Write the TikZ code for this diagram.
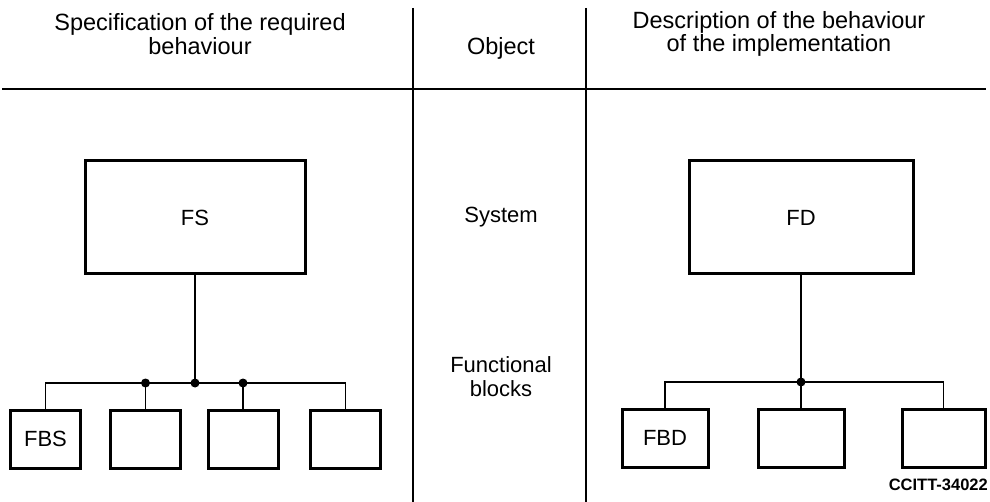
\documentclass[tikz,border=0pt]{standalone}
\usepackage{fontspec}
\setmainfont{Liberation Sans}
\begin{document}
\begin{tikzpicture}[x=1pt,y=-1pt,
  rule/.style={line width=1.4pt},
  conn/.style={line width=1.5pt},
  bigbox/.style={draw, line width=3pt, minimum height=113pt, inner sep=0pt, font=\fontsize{22}{22}\selectfont},
  smallbox/.style={draw, line width=3pt, minimum height=58pt, inner sep=0pt, font=\fontsize{22}{22}\selectfont},
  junction/.style={circle, fill, inner sep=0pt, minimum size=9pt},
  hdr/.style={align=center, inner sep=0pt, font=\fontsize{23.5}{23.5}\selectfont},
  lbl/.style={align=center, inner sep=0pt, font=\fontsize{22}{24}\selectfont}]
\useasboundingbox (0,0) rectangle (990,502);

% table rules
\coordinate (hl) at (2,89);
\coordinate (hr) at (986,89);
\coordinate (v1t) at (413,8);
\coordinate (v1b) at (413,502);
\coordinate (v2t) at (586,8);
\coordinate (v2b) at (586,502);
\draw[rule] (hl) -- (hr);
\draw[rule] (v1t) -- (v1b);
\draw[rule] (v2t) -- (v2b);

% headers
\node[hdr] (h1) at (200,34) {Specification of the required\\behaviour};
\node[hdr] (h2) at (501,48) {Object};
\node[hdr] (h3) at (779,34) {Description of the behaviour\\of the implementation};

% middle column
\node[lbl] (sys) at (501,217) {System};
\node[lbl] (fb) at (501,377) {Functional\\blocks};

% left side
\node[bigbox, minimum width=220pt] (fs) at (195,217.5) {FS};
\node[smallbox, minimum width=70pt] (b1) at (45.5,439) {FBS};
\node[smallbox, minimum width=70pt] (b2) at (145.5,439) {};
\node[smallbox, minimum width=70pt] (b3) at (243,439) {};
\node[smallbox, minimum width=70pt] (b4) at (345.5,439) {};
\coordinate (jL) at (195,383);
\draw[conn] (fs.south) -- (jL);
\draw[conn] (b1.north) |- (jL) -| (b4.north);
\draw[conn] (b2.north) -- (b2.north |- jL) node[junction] (jL2) {};
\draw[conn] (b3.north) -- (b3.north |- jL) node[junction] (jL3) {};
\node[junction] (jL1) at (jL) {};

% right side
\node[bigbox, minimum width=224pt] (fd) at (801,217.5) {FD};
\node[smallbox, minimum width=86pt] (c1) at (665,438) {FBD};
\node[smallbox, minimum width=86pt] (c2) at (801,438) {};
\node[smallbox, minimum width=83pt] (c3) at (943.5,438) {};
\coordinate (jR) at (801,382);
\draw[conn] (fd.south) -- (c2.north);
\draw[conn] (c1.north) |- (jR) -| (c3.north);
\node[junction] (jR1) at (jR) {};

% figure code
\node[anchor=east, inner sep=0pt, font=\fontsize{16.5}{16.5}\selectfont\bfseries] (code) at (988,485) {CCITT-34022};
\end{tikzpicture}
\end{document}
